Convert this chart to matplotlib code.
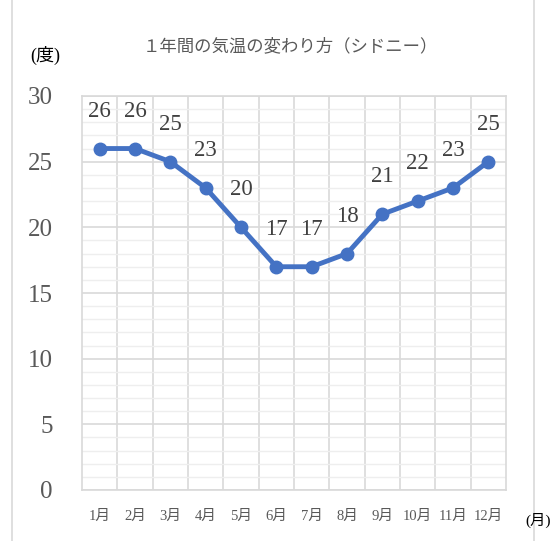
import matplotlib.pyplot as plt
from matplotlib.lines import Line2D
from matplotlib.ticker import MultipleLocator

plt.rcParams['font.family'] = ['Liberation Serif', 'Noto Sans CJK JP']

# Data
months = ['1月', '2月', '3月', '4月', '5月', '6月', '7月', '8月', '9月', '10月', '11月', '12月']
temps = [26, 26, 25, 23, 20, 17, 17, 18, 21, 22, 23, 25]

W, H = 558, 541
fig = plt.figure(figsize=(W / 100, H / 100), dpi=100)
ax = fig.add_axes([82 / W, 1 - 490 / H, (506 - 82) / W, (490 - 96) / H])

x = list(range(len(months)))
ax.plot(x, temps, color='#4472C4', linewidth=3.5, marker='o', markersize=9,
        solid_capstyle='round', zorder=3)
for xi, t in zip(x, temps):
    ax.annotate(str(t), (xi, t), xytext=(0, 27), textcoords='offset points',
                ha='center', va='center', fontsize=16.5, color='#404040')

ax.set_xlim(-0.5, len(months) - 0.5)
ax.set_ylim(0, 30)
ax.yaxis.set_major_locator(MultipleLocator(5))
ax.yaxis.set_minor_locator(MultipleLocator(1))
ax.set_xticks(x)
ax.set_xticklabels(months)
ax.set_xticks([i + 0.5 for i in x[:-1]], minor=True)

ax.grid(axis='y', which='major', color='#d9d9d9', linewidth=1.2)
ax.grid(axis='y', which='minor', color='#eeeeee', linewidth=1.0)
ax.grid(axis='x', which='minor', color='#d9d9d9', linewidth=1.2)
ax.set_axisbelow(True)

for s in ax.spines.values():
    s.set_color('#d9d9d9')
    s.set_linewidth(1.2)

ax.tick_params(which='both', length=0)
ax.tick_params(axis='y', labelsize=18, labelcolor='#595959', pad=21)
ax.tick_params(axis='x', labelsize=10.5, labelcolor='#595959', pad=14)

fig.text(290 / W, 1 - 47 / H, '１年間の気温の変わり方（シドニー）', ha='center', va='center',
         fontsize=12.5, color='#595959')
fig.text(45 / W, 1 - 55 / H, '(度)', ha='center', va='center', fontsize=13, color='#000000')
fig.text(538 / W, 1 - 520 / H, '(月)', ha='center', va='center', fontsize=11, color='#000000')

# outer chart-area border
fig.add_artist(Line2D([12 / W, 12 / W], [0, 1], color='#d9d9d9', linewidth=1.2))
fig.add_artist(Line2D([534 / W, 534 / W], [0, 1], color='#d9d9d9', linewidth=1.2))

fig.savefig('out.png', dpi=100)
